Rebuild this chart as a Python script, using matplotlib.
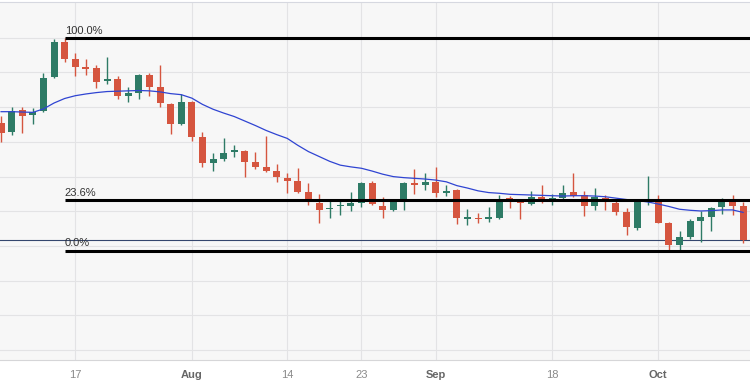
import matplotlib.pyplot as plt
import numpy as np

# daily candles, Jul 6 .. Oct 12 (weekdays only)
opens = [1.2654, 1.2628, 1.2692, 1.2677, 1.2689, 1.2786, 1.2889, 1.2838, 1.2817, 1.2812,
         1.2774, 1.2780, 1.2733, 1.2740, 1.2793, 1.2757, 1.2709, 1.2651, 1.2716, 1.2613,
         1.2540, 1.2552, 1.2571, 1.2574, 1.2543, 1.2529, 1.2515, 1.2497, 1.2487, 1.2457,
         1.2424, 1.2406, 1.2414, 1.2415, 1.2424, 1.2481, 1.2416, 1.2404, 1.2431, 1.2481,
         1.2477, 1.2484, 1.2454, 1.2461, 1.2378, 1.2380, 1.2378, 1.2380, 1.2438, 1.2431,
         1.2422, 1.2442, 1.2431, 1.2439, 1.2455, 1.2447, 1.2416, 1.2439, 1.2423, 1.2397,
         1.2353, 1.2430, 1.2431, 1.2365, 1.2303, 1.2325, 1.2371, 1.2385, 1.2413, 1.2429,
         1.2415]
highs = [1.2675, 1.2701, 1.2700, 1.2697, 1.2798, 1.2895, 1.2898, 1.2855, 1.2838, 1.2821,
         1.2845, 1.2790, 1.2757, 1.2796, 1.2798, 1.2821, 1.2711, 1.2738, 1.2718, 1.2629,
         1.2569, 1.2610, 1.2591, 1.2577, 1.2572, 1.2617, 1.2536, 1.2510, 1.2524, 1.2481,
         1.2450, 1.2430, 1.2431, 1.2457, 1.2484, 1.2488, 1.2442, 1.2435, 1.2485, 1.2521,
         1.2510, 1.2527, 1.2476, 1.2463, 1.2406, 1.2396, 1.2413, 1.2447, 1.2444, 1.2435,
         1.2459, 1.2476, 1.2450, 1.2476, 1.2511, 1.2459, 1.2466, 1.2447, 1.2431, 1.2409,
         1.2433, 1.2502, 1.2447, 1.2370, 1.2343, 1.2379, 1.2401, 1.2413, 1.2438, 1.2448,
         1.2428]
lows = [1.2600, 1.2620, 1.2625, 1.2651, 1.2685, 1.2785, 1.2831, 1.2790, 1.2793, 1.2754,
        1.2767, 1.2724, 1.2714, 1.2723, 1.2732, 1.2700, 1.2622, 1.2648, 1.2603, 1.2528,
        1.2516, 1.2546, 1.2557, 1.2500, 1.2521, 1.2513, 1.2485, 1.2454, 1.2452, 1.2418,
        1.2366, 1.2380, 1.2389, 1.2402, 1.2412, 1.2418, 1.2380, 1.2402, 1.2404, 1.2450,
        1.2461, 1.2442, 1.2444, 1.2363, 1.2361, 1.2366, 1.2370, 1.2379, 1.2409, 1.2379,
        1.2418, 1.2425, 1.2418, 1.2435, 1.2440, 1.2387, 1.2405, 1.2405, 1.2389, 1.2332,
        1.2346, 1.2418, 1.2365, 1.2290, 1.2287, 1.2319, 1.2313, 1.2343, 1.2391, 1.2388,
        1.2308]
closes = [1.2627, 1.2690, 1.2675, 1.2687, 1.2785, 1.2889, 1.2839, 1.2817, 1.2811, 1.2773,
          1.2781, 1.2732, 1.2740, 1.2793, 1.2759, 1.2711, 1.2651, 1.2716, 1.2615, 1.2540,
          1.2550, 1.2569, 1.2577, 1.2543, 1.2529, 1.2516, 1.2498, 1.2488, 1.2457, 1.2428,
          1.2404, 1.2410, 1.2417, 1.2425, 1.2481, 1.2420, 1.2404, 1.2428, 1.2481, 1.2475,
          1.2484, 1.2454, 1.2459, 1.2380, 1.2380, 1.2377, 1.2381, 1.2435, 1.2431, 1.2423,
          1.2440, 1.2431, 1.2438, 1.2454, 1.2445, 1.2416, 1.2442, 1.2426, 1.2399, 1.2356,
          1.2428, 1.2432, 1.2366, 1.2304, 1.2326, 1.2371, 1.2385, 1.2410, 1.2432, 1.2415,
          1.2317]
moving_avg = [1.2687, 1.2687, 1.2686, 1.2685, 1.2695, 1.2712, 1.2725, 1.2733, 1.2738, 1.2742,
              1.2745, 1.2746, 1.2747, 1.2748, 1.2747, 1.2744, 1.2739, 1.2736, 1.2726, 1.2708,
              1.2694, 1.2683, 1.2673, 1.2660, 1.2647, 1.2633, 1.2621, 1.2610, 1.2590, 1.2572,
              1.2558, 1.2544, 1.2533, 1.2528, 1.2524, 1.2516, 1.2507, 1.2500, 1.2497, 1.2495,
              1.2493, 1.2490, 1.2485, 1.2474, 1.2467, 1.2459, 1.2454, 1.2452, 1.2449, 1.2448,
              1.2447, 1.2446, 1.2445, 1.2444, 1.2445, 1.2445, 1.2444, 1.2442, 1.2438, 1.2434,
              1.2431, 1.2427, 1.2421, 1.2414, 1.2406, 1.2403, 1.2401, 1.2402, 1.2404, 1.2404,
              1.2397]

tick_pos = [7, 18, 27, 34, 41, 52, 62]
tick_labels = ['17', 'Aug', '14', '23', 'Sep', '18', 'Oct']
fib_start = 6
fib_ratios = [1.0, 0.236, 0.0]
fib_labels = ['100.0%', '23.6%', '0.0%']

up_color = '#2e7b66'
down_color = '#d5553f'

o = np.array(opens)
h = np.array(highs)
l = np.array(lows)
c = np.array(closes)
x = np.arange(len(o))
colors = np.where(c >= o, up_color, down_color)

fig = plt.figure(figsize=(7.5, 3.86), dpi=100)
ax = fig.add_axes([0, 26 / 386, 1, 358 / 386])
ax.set_facecolor('#f7f7f7')

# grid
for p in np.arange(1.20, 1.295, 0.01):
    ax.axhline(p, color='#e3e3e5', lw=0.8, zorder=0)
for t in tick_pos:
    ax.axvline(t, color='#e3e3e5', lw=0.8, zorder=0)

# candles
ax.vlines(x, l, h, colors=colors, lw=1.0, zorder=2)
body = np.maximum(np.abs(c - o), 0.0005)
ax.bar(x, body, bottom=np.minimum(o, c), width=0.66, color=colors, zorder=3)

# moving average
ax.plot(x, moving_avg, color='#2f44d2', lw=0.9, zorder=4)

# last price line
ax.axhline(c[-1], color='#34466e', lw=0.8, zorder=1)

# fibonacci levels
hi, lo = h.max(), l.min()
right = 70.65
for r, lab in zip(fib_ratios, fib_labels):
    lvl = lo + r * (hi - lo)
    ax.hlines(lvl, fib_start, right, color='black', lw=2.2, zorder=5)
    ax.annotate(lab, (fib_start, lvl), xytext=(0, 1.5), textcoords='offset points',
                ha='left', va='bottom', fontsize=8, color='#333333',
                family='Liberation Sans', zorder=6)

ax.set_xlim(-0.1, right)
ax.set_ylim(1.19718, 1.30029)
ax.set_yticks([])
ax.set_xticks(tick_pos)
ax.set_xticklabels(tick_labels, family='Liberation Sans', fontsize=8)
for lbl in ax.get_xticklabels():
    if lbl.get_text().isdigit():
        lbl.set_color('#8a8a8a')
    else:
        lbl.set_color('#666666')
        lbl.set_fontweight('bold')
ax.tick_params(axis='x', length=0, pad=7)

for s in ['left', 'right']:
    ax.spines[s].set_visible(False)
ax.spines['bottom'].set_color('#d6d6d8')
ax.spines['top'].set_color('#d6d8e0')

fig.savefig('out.png', dpi=100, facecolor='white')
